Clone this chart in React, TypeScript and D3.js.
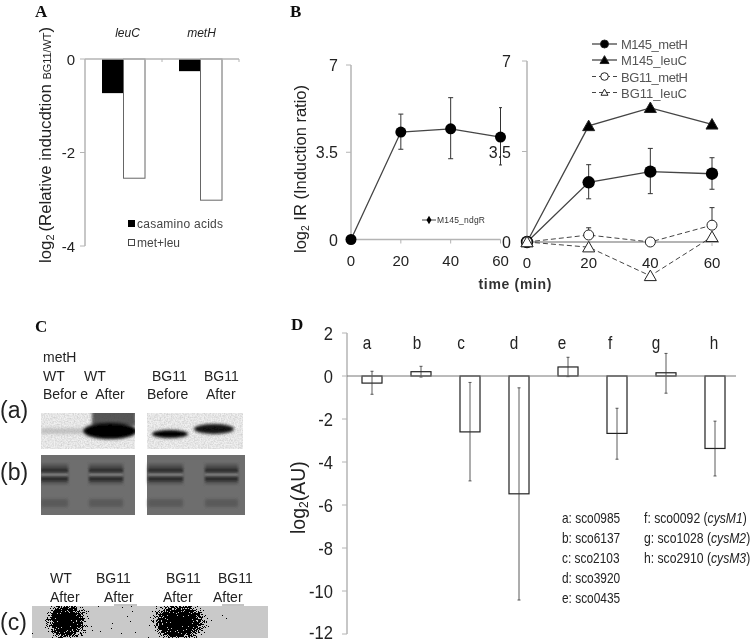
import React from "react";
import * as d3 from "d3";

const panelAGenes = ["leuC", "metH"];
const casamino = [-0.73, -0.26];
const metLeu = [-2.55, -3.02];
const panelATicks = [0, -2, -4];

const minutes = [0, 20, 40, 60];
const ndgR = [0, 4.31, 4.44, 4.11];
const ndgRHi = [0, 5.03, 5.69, 5.29];
const ndgRLo = [0, 3.62, 3.24, 2.99];
const m145MetH = [0, 2.31, 2.72, 2.64];
const m145MetHHi = [0, 2.99, 3.62, 3.26];
const m145MetHLo = [0, 1.67, 1.87, 2.04];
const m145LeuC = [0, 4.49, 5.19, 4.55];
const bg11MetH = [0, 0.27, 0, 0.65];
const bg11MetHHi = [0, 0.55, 0, 1.33];
const bg11LeuC = [0, -0.2, -1.31, 0.2];
const irTicks = [0, 3.5, 7];

const geneLetters = ["a", "b", "c", "d", "e", "f", "g", "h"];
const auValues = [-0.33, 0.2, -2.6, -5.48, 0.42, -2.67, 0.15, -3.37];
const auHi = [0.22, 0.45, -0.3, -0.55, 0.87, -1.5, 1.05, -2.1];
const auLo = [-0.85, -0.05, -4.88, -10.42, -0.03, -3.87, -0.8, -4.65];
const auTicks = [2, 0, -2, -4, -6, -8, -10, -12];
const geneListA = ["a: sco0985", "b: sco6137", "c: sco2103", "d: sco3920", "e: sco0435"];
const geneListB = [
  ["f: sco0092 (", "cysM1", ")"],
  ["g: sco1028 (", "cysM2", ")"],
  ["h: sco2910 (", "cysM3", ")"],
];

const SANS = "'Liberation Sans', Arial, sans-serif";
const SERIF = "'Liberation Serif', serif";
const AXIS = "#b4b4b4";
const INK = "#222";

const yA = d3.scaleLinear().domain([0, -4]).range([59, 246]);
const xA = d3.scaleBand().domain(panelAGenes).range([85, 239]);
const xBL = d3.scaleLinear().domain([0, 60]).range([351, 500.5]);
const yBL = d3.scaleLinear().domain([0, 7]).range([239.5, 65]);
const xBR = d3.scaleLinear().domain([0, 60]).range([527, 712]);
const yBR = d3.scaleLinear().domain([0, 7]).range([242, 61]);
const xD = d3.scaleBand().domain(geneLetters).range([347.5, 739.5]);
const yD = d3.scaleLinear().domain([2, -12]).range([333, 634]);

function lineOf(x: d3.ScaleLinear<number, number>, y: d3.ScaleLinear<number, number>, vals: number[]) {
  return d3.line<number>().x((_, i) => x(minutes[i])).y((v) => y(v))(vals) || "";
}

function Tri({ x, y, r, fill }: { x: number; y: number; r: number; fill: string }) {
  const h = r * 1.75;
  return <path d={`M${x},${y - h * 0.55}L${x + r},${y + h * 0.45}L${x - r},${y + h * 0.45}Z`} fill={fill} stroke="#222" strokeWidth={1} />;
}

function Err({ x, hi, lo, cap = 2.5, w = 1 }: { x: number; hi: number; lo: number; cap?: number; w?: number }) {
  return (
    <g stroke="#333" strokeWidth={w}>
      <line x1={x} x2={x} y1={hi} y2={lo} />
      <line x1={x - cap} x2={x + cap} y1={hi} y2={hi} />
      <line x1={x - cap} x2={x + cap} y1={lo} y2={lo} />
    </g>
  );
}

function T(p: any) {
  return <text fontFamily={SANS} fill={INK} {...p} />;
}

function Sq({ x, y, sx, ...p }: any) {
  return <text transform={`translate(${x},${y}) scale(${sx},1)`} fontFamily={SANS} fill={INK} {...p} />;
}

function PanelA() {
  const bw = 21.5;
  const centers = panelAGenes.map((g) => (xA(g) as number) + xA.bandwidth() / 2);
  return (
    <g>
      <text x={35} y={17} fontFamily={SERIF} fontWeight="bold" fontSize={17} fill="#111">A</text>
      <line x1={85} x2={85} y1={59} y2={246} stroke={AXIS} strokeWidth={1.5} />
      {panelATicks.map((t) => (
        <g key={t}>
          <line x1={80} x2={85} y1={yA(t)} y2={yA(t)} stroke={AXIS} />
          <T x={75} y={yA(t) + 5.5} fontSize={15} textAnchor="end">{t}</T>
        </g>
      ))}
      {[162, 239].map((x) => <line key={x} x1={x} x2={x} y1={59} y2={62} stroke={AXIS} />)}
      {panelAGenes.map((g, i) => (
        <g key={g}>
          <rect x={centers[i] - bw} y={yA(0)} width={bw} height={yA(casamino[i]) - yA(0)} fill="#000" />
          <rect x={centers[i]} y={yA(0)} width={bw} height={yA(metLeu[i]) - yA(0)} fill="#fff" stroke="#666" strokeWidth={1} />
          <T x={centers[i] + (i === 0 ? 4 : 1)} y={37} fontSize={12} fontStyle="italic" textAnchor="middle">{g}</T>
        </g>
      ))}
      <line x1={85} x2={239} y1={59} y2={59} stroke={AXIS} strokeWidth={1.3} />
      <rect x={128} y={220} width={7} height={7} fill="#000" />
      <T x={137} y={228} fontSize={12} textLength={86} fill="#444">casamino acids</T>
      <rect x={128.5} y={239.5} width={6} height={6} fill="#fff" stroke="#444" />
      <T x={137} y={247} fontSize={12} fill="#444">met+leu</T>
      <g transform="translate(51,263) rotate(-90)">
        <T fontSize={17} textLength={236} lengthAdjust="spacingAndGlyphs">
          log<tspan fontSize={11} dy={3}>2 </tspan><tspan dy={-3}>(Relative inducdtion </tspan><tspan fontSize={11}>BG11/WT</tspan>)
        </T>
      </g>
    </g>
  );
}

function PanelBLeft() {
  return (
    <g>
      <text x={290} y={17} fontFamily={SERIF} fontWeight="bold" fontSize={17} fill="#111">B</text>
      <line x1={351} x2={351} y1={yBL(7)} y2={yBL(0)} stroke={AXIS} strokeWidth={1.5} />
      <line x1={351} x2={500.5} y1={yBL(0)} y2={yBL(0)} stroke={AXIS} strokeWidth={1.5} />
      {irTicks.map((t) => (
        <g key={t}>
          <line x1={346} x2={351} y1={yBL(t)} y2={yBL(t)} stroke={AXIS} />
          <T x={338} y={yBL(t) + 6} fontSize={16} textAnchor="end">{t}</T>
        </g>
      ))}
      {minutes.map((m) => (
        <g key={m}>
          <line x1={xBL(m)} x2={xBL(m)} y1={yBL(0)} y2={yBL(0) + 4} stroke={AXIS} />
          <T x={xBL(m)} y={266} fontSize={15} textAnchor="middle">{m}</T>
        </g>
      ))}
      <path d={lineOf(xBL, yBL, ndgR)} fill="none" stroke="#444" strokeWidth={1.3} />
      {minutes.map((m, i) => i > 0 && <Err key={m} x={xBL(m)} hi={yBL(ndgRHi[i])} lo={yBL(ndgRLo[i])} cap={i === 3 ? 1.5 : 2.5} />)}
      {minutes.map((m, i) => <circle key={m} cx={xBL(m)} cy={yBL(ndgR[i])} r={5.5} fill="#000" />)}
      <line x1={422} x2={436} y1={220} y2={220} stroke="#444" />
      <path d={d3.symbol().type(d3.symbolDiamond).size(22)() || ""} transform="translate(429,220)" fill="#000" />
      <T x={437} y={223} fontSize={8.5} fill="#333" textLength={48}>M145_ndgR</T>
      <g transform="translate(306,253) rotate(-90)">
        <T fontSize={16} textLength={168} lengthAdjust="spacingAndGlyphs">
          log<tspan fontSize={10} dy={3}>2</tspan><tspan dy={-3}> IR  (Induction ratio)</tspan>
        </T>
      </g>
    </g>
  );
}

function PanelBRight() {
  const dash = "5,3";
  const legend = [
    { name: "M145_metH", y: 44, dashed: false, tri: false, fill: "#000" },
    { name: "M145_leuC", y: 60, dashed: false, tri: true, fill: "#000" },
    { name: "BG11_metH", y: 76.5, dashed: true, tri: false, fill: "#fff" },
    { name: "BG11_leuC", y: 92.5, dashed: true, tri: true, fill: "#fff" },
  ];
  return (
    <g>
      <line x1={527} x2={527} y1={yBR(7)} y2={yBR(0)} stroke={AXIS} strokeWidth={1.5} />
      <line x1={527} x2={719} y1={yBR(0)} y2={yBR(0)} stroke={AXIS} strokeWidth={2} />
      {irTicks.map((t) => (
        <g key={t}>
          <line x1={522} x2={527} y1={yBR(t)} y2={yBR(t)} stroke={AXIS} />
          <T x={511} y={yBR(t) + 6} fontSize={16} textAnchor="end">{t}</T>
        </g>
      ))}
      {minutes.map((m) => (
        <g key={m}>
          <line x1={xBR(m)} x2={xBR(m)} y1={yBR(0)} y2={yBR(0) + 4} stroke={AXIS} />
          <T x={xBR(m)} y={268} fontSize={15} textAnchor="middle">{m}</T>
        </g>
      ))}
      <T x={515} y={289} fontSize={14} fontWeight="bold" textAnchor="middle" textLength={73} fill="#333">time (min)</T>
      <path d={lineOf(xBR, yBR, m145MetH)} fill="none" stroke="#444" strokeWidth={1.3} />
      <path d={lineOf(xBR, yBR, m145LeuC)} fill="none" stroke="#444" strokeWidth={1.3} />
      <path d={lineOf(xBR, yBR, bg11MetH)} fill="none" stroke="#444" strokeDasharray={dash} />
      <path d={lineOf(xBR, yBR, bg11LeuC)} fill="none" stroke="#444" strokeDasharray={dash} />
      {minutes.map((m, i) => i > 0 && <Err key={m} x={xBR(m)} hi={yBR(m145MetHHi[i])} lo={yBR(m145MetHLo[i])} />)}
      {minutes.map((m, i) => i > 0 && i !== 2 && <Err key={m} x={xBR(m)} hi={yBR(bg11MetHHi[i])} lo={yBR(bg11MetH[i])} />)}
      {minutes.map((m, i) => <circle key={m} cx={xBR(m)} cy={yBR(m145MetH[i])} r={6.2} fill="#000" />)}
      {minutes.map((m, i) => <Tri key={m} x={xBR(m)} y={yBR(m145LeuC[i])} r={6} fill="#000" />)}
      {minutes.map((m, i) => <circle key={m} cx={xBR(m)} cy={yBR(bg11MetH[i])} r={5} fill="#fff" stroke="#222" />)}
      {minutes.map((m, i) => <Tri key={m} x={xBR(m)} y={yBR(bg11LeuC[i])} r={6} fill="#fff" />)}
      {legend.map((l) => (
        <g key={l.name}>
          <line x1={592} x2={617} y1={l.y} y2={l.y} stroke="#444" strokeWidth={l.dashed ? 1 : 1.3} strokeDasharray={l.dashed ? "4,3" : undefined} />
          {l.tri ? <Tri x={604.5} y={l.y} r={l.dashed ? 3.5 : 4.5} fill={l.fill} /> : <circle cx={604.5} cy={l.y} r={l.dashed ? 3.8 : 4} fill={l.fill} stroke="#222" />}
          <T x={621} y={l.y + 5} fontSize={13} textLength={l.name.endsWith("H") ? 67 : 66} fill="#555">{l.name}</T>
        </g>
      ))}
    </g>
  );
}

function PanelC() {
  return (
    <g>
      <text x={35} y={332} fontFamily={SERIF} fontWeight="bold" fontSize={17} fill="#111">C</text>
      <T x={43} y={362} fontSize={14}>metH</T>
      <T x={43} y={381} fontSize={14}>WT</T>
      <T x={84} y={381} fontSize={14}>WT</T>
      <T x={152} y={381} fontSize={14}>BG11</T>
      <T x={204} y={381} fontSize={14}>BG11</T>
      <T x={43} y={399} fontSize={14} style={{ whiteSpace: "pre" }}>Befor e  After</T>
      <T x={147} y={399} fontSize={14}>Before</T>
      <T x={206} y={399} fontSize={14}>After</T>
      <T x={0} y={418} fontSize={23}>(a)</T>
      <T x={0} y={480} fontSize={23}>(b)</T>
      <T x={0} y={630} fontSize={23}>(c)</T>

      <g clipPath="url(#clipBlotA)">
        <rect x={41} y={413} width={202} height={36} fill="#f0f0f0" />
        <rect x={41} y={413} width={202} height={36} filter="url(#grain)" fill="#000" opacity={0.18} />
        <rect x={41} y={428} width={42} height={6} fill="#aaa" opacity={0.6} filter="url(#soft)" />
        <rect x={92} y={410} width={44} height={16} fill="#333" opacity={0.8} filter="url(#soft)" />
        <ellipse cx={110} cy={431} rx={27} ry={8} fill="#000" filter="url(#soft)" />
        <ellipse cx={170} cy={434} rx={18} ry={4} fill="#000" filter="url(#soft)" />
        <ellipse cx={214} cy={429} rx={20} ry={5} fill="#000" opacity={0.92} filter="url(#soft)" />
      </g>
      <rect x={135} y={410} width={12} height={42} fill="#fff" />

      {[[41, 94], [147, 98]].map(([x, w]) => (
        <rect key={x} x={x} y={455} width={w} height={60} fill="#6e6e6e" />
      ))}
      <g clipPath="url(#clipBlotB)">
        {[[41, 27], [89, 34], [148, 35], [205, 33]].map(([x, w]) => (
          <g key={x}>
            <rect x={x} y={464} width={w} height={20} fill="#505050" filter="url(#soft)" />
            <rect x={x} y={473.5} width={w} height={2.5} fill="#858585" filter="url(#soft05)" />
            <rect x={x} y={468.5} width={w} height={3.5} fill="#2e2e2e" filter="url(#soft05)" />
            <rect x={x} y={477} width={w} height={4} fill="#2e2e2e" filter="url(#soft05)" />
            <rect x={x} y={499} width={w} height={8} fill="#5a5a5a" filter="url(#soft)" />
          </g>
        ))}
      </g>

      <T x={50} y={583} fontSize={14}>WT</T>
      <T x={96} y={583} fontSize={14}>BG11</T>
      <T x={166} y={583} fontSize={14}>BG11</T>
      <T x={218} y={583} fontSize={14}>BG11</T>
      <T x={50} y={602} fontSize={14}>After</T>
      <T x={104} y={602} fontSize={14}>After</T>
      <T x={163} y={602} fontSize={14}>After</T>
      <T x={213} y={602} fontSize={14}>After</T>
      {[[114, 137], [222, 244]].map(([a, b]) => <line key={a} x1={a} x2={b} y1={605} y2={605} stroke="#888" />)}
      <rect x={32} y={606} width={236} height={32} fill="#c9c9c9" />
      <g clipPath="url(#clipStrip)">
        <g filter="url(#speckle)">
          <ellipse cx={67} cy={621} rx={25} ry={23} fill="url(#spot)" />
          <ellipse cx={179} cy={622} rx={33} ry={23} fill="url(#spot)" />
        </g>
      </g>
    </g>
  );
}

function PanelD() {
  const bw = 20;
  const labelOffsets = [-5, -4, -9, -5, -6, -7, -10, -1];
  return (
    <g>
      <text x={291} y={330} fontFamily={SERIF} fontWeight="bold" fontSize={17} fill="#111">D</text>
      <line x1={347} x2={347} y1={yD(2)} y2={yD(-12)} stroke={AXIS} strokeWidth={1.5} />
      {auTicks.map((t) => (
        <g key={t}>
          <line x1={342} x2={347} y1={yD(t)} y2={yD(t)} stroke={AXIS} />
          <Sq x={333} y={Math.min(yD(t) + 6.5, 639)} sx={0.92} fontSize={18} textAnchor="end">{t}</Sq>
        </g>
      ))}
      {geneLetters.map((g, i) => {
        const c = (xD(g) as number) + xD.bandwidth() / 2;
        return (
          <g key={g}>
            <rect x={c - bw / 2} y={Math.min(yD(auValues[i]), yD(0))} width={bw} height={Math.abs(yD(auValues[i]) - yD(0))} fill="#fff" stroke="#222" strokeWidth={1.2} />
            <Err x={c} hi={yD(auHi[i])} lo={yD(auLo[i])} cap={1.5} w={0.8} />
            <Sq x={c + labelOffsets[i]} y={349} sx={0.85} fontSize={18} textAnchor="middle">{g}</Sq>
          </g>
        );
      })}
      <line x1={347} x2={736} y1={yD(0)} y2={yD(0)} stroke="#777" strokeWidth={1} />
      <g transform="translate(305,534) rotate(-90)">
        <T fontSize={19.5}>
          log<tspan fontSize={12} dy={3}>2</tspan><tspan dy={-3}>(AU)</tspan>
        </T>
      </g>
      {geneListA.map((s, i) => (
        <Sq key={s} x={562} y={523 + i * 20} sx={0.85} fontSize={14}>{s}</Sq>
      ))}
      {geneListB.map((s, i) => (
        <Sq key={s[0]} x={644} y={523 + i * 20} sx={0.87} fontSize={14} style={{ whiteSpace: "pre" }}>
          {s[0]}<tspan fontStyle="italic">{s[1]}</tspan>{s[2]}
        </Sq>
      ))}
    </g>
  );
}

export default function App() {
  return (
    <svg width={750} height={643} style={{ position: "absolute", left: 0, top: 0, background: "#fff" }}>
      <defs>
        <filter id="soft" x="-30%" y="-80%" width="160%" height="260%"><feGaussianBlur stdDeviation="1.6" /></filter>
        <filter id="soft05" x="-10%" y="-150%" width="120%" height="400%"><feGaussianBlur stdDeviation="0.8" /></filter>
        <filter id="page" filterUnits="userSpaceOnUse" x="0" y="0" width="750" height="643"><feGaussianBlur stdDeviation="0.35" /></filter>
        <filter id="grain" x="0" y="0" width="100%" height="100%">
          <feTurbulence type="fractalNoise" baseFrequency="0.7" numOctaves={2} seed={3} />
          <feColorMatrix values="0 0 0 0 0  0 0 0 0 0  0 0 0 0 0  1.4 0 0 0 -0.45" />
        </filter>
        <filter id="speckle" x="-20%" y="-20%" width="140%" height="140%" colorInterpolationFilters="sRGB">
          <feTurbulence type="fractalNoise" baseFrequency="1.2" numOctaves={2} seed={7} result="n" />
          <feColorMatrix in="n" values="0 0 0 0 0  0 0 0 0 0  0 0 0 0 0  1.3 0 0 0 -0.22" result="na" />
          <feComposite in="SourceAlpha" in2="na" operator="arithmetic" k1="0" k2="1" k3="1" k4="0" result="sum" />
          <feComponentTransfer in="sum"><feFuncA type="discrete" tableValues="0 0 0 0 1" /></feComponentTransfer>
        </filter>
        <radialGradient id="spot">
          <stop offset="0" stopColor="#000" stopOpacity="0.75" />
          <stop offset="0.55" stopColor="#000" stopOpacity="0.55" />
          <stop offset="0.8" stopColor="#000" stopOpacity="0.25" />
          <stop offset="1" stopColor="#000" stopOpacity="0" />
        </radialGradient>
        <clipPath id="clipBlotA"><rect x={41} y={413} width={202} height={36} /></clipPath>
        <clipPath id="clipBlotB"><rect x={41} y={455} width={204} height={60} /></clipPath>
        <clipPath id="clipStrip"><rect x={32} y={606} width={236} height={32} /></clipPath>
      </defs>
      <g filter="url(#page)">
        <PanelA />
        <PanelBLeft />
        <PanelBRight />
        <PanelC />
        <PanelD />
      </g>
    </svg>
  );
}
